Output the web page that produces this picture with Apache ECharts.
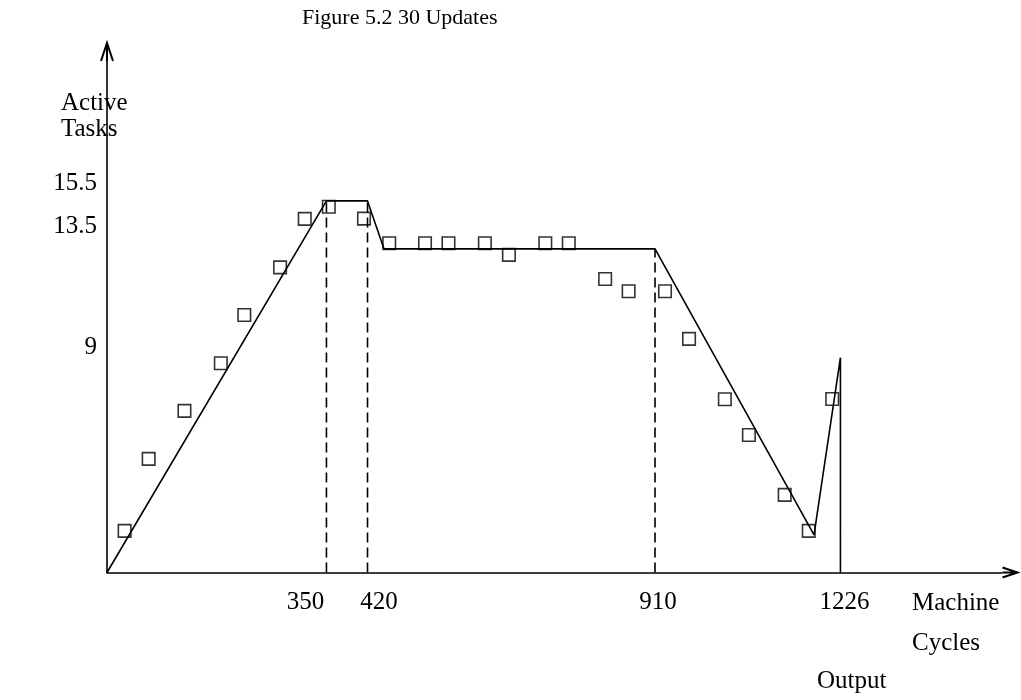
<!DOCTYPE html>
<html>
<head>
<meta charset="utf-8">
<script src="https://cdn.jsdelivr.net/npm/echarts@6/dist/echarts.min.js"></script>
<style>
  html, body { margin: 0; padding: 0; background: #fff; }
  #chart { width: 1021px; height: 700px; }
</style>
</head>
<body>
<div id="chart"></div>
<script>
// ---- data ----
const titleText = 'Figure 5.2 30 Updates';
const yAxisLabel = ['Active', 'Tasks'];
const xAxisLabel = ['Machine', 'Cycles'];
const outputLabel = 'Output';

const xTicks = [350, 420, 910, 1226];
const yTicks = [9, 13.5, 15.5];

// model curve (solid polyline)
const modelX = [-24, 350, 420, 448, 910, 1181, 1226, 1226];
const modelY = [0, 14.65, 14.65, 12.76, 12.76, 1.48, 8.47, 0];

// dashed guide lines
const guideX = [350, 420, 910];
const guideTop = [14.65, 14.65, 12.76];

// measured points (squares)
const pointX = [6, 47, 108, 170, 210, 271, 313, 354, 414, 457, 518, 558, 620, 661, 723, 763, 825, 865, 927, 968, 1029, 1070, 1131, 1172, 1212];
const pointY = [1.64, 4.48, 6.37, 8.25, 10.15, 12.03, 13.94, 14.42, 13.95, 12.98, 12.98, 12.98, 12.98, 12.52, 12.98, 12.98, 11.57, 11.09, 11.09, 9.21, 6.83, 5.42, 3.06, 1.64, 6.84];

// ---- build ----
const FONT = 'Liberation Serif';
const openArrow = 'emptypath://M0 18 L6 0 L12 18 M6 0 L6 18';

const modelData = modelX.map((x, i) => [x, modelY[i]]);
const pointData = pointX.map((x, i) => [x, pointY[i]]);

const guideSeries = guideX.map((x, i) => ({
  type: 'line',
  data: [[x, 0], [x, guideTop[i]]],
  symbol: 'none',
  silent: true,
  lineStyle: { color: '#000', width: 1.6, type: [10, 5] },
  z: 1
}));

// label shifts (reference labels are not exactly centred on their ticks)
const xLabelRich = {
  a: { padding: [0, 42, 0, 0] },
  b: { padding: [0, 0, 0, 23] },
  c: { padding: [0, 0, 0, 6] },
  d: { padding: [0, 0, 0, 8] }
};
const xLabelKey = { 350: 'a', 420: 'b', 910: 'c', 1226: 'd' };
const yLabelRich = {
  p: { padding: [6, 0, 0, 0] },
  q: { padding: [0, 0, 8, 0] },
  r: { padding: [8, 0, 0, 0] }
};
const yLabelKey = { 9: 'p', 13.5: 'q', 15.5: 'r' };

const chart = echarts.init(document.getElementById('chart'), null, { renderer: 'canvas' });
chart.setOption({
  backgroundColor: '#fff',
  animation: false,
  title: {
    text: titleText,
    left: 302,
    top: 7,
    padding: 0,
    textStyle: { fontFamily: FONT, fontSize: 22, fontWeight: 'normal', color: '#000' }
  },
  grid: {
    left: 107, right: 11, top: 52, bottom: 127.5,
    containLabel: false,
    outerBoundsMode: 'none'
  },
  xAxis: {
    type: 'value',
    min: -24,
    max: 1515,
    splitLine: { show: false },
    axisTick: { show: false },
    axisLine: {
      show: true,
      onZero: false,
      symbol: ['none', openArrow],
      symbolSize: [10, 20],
      lineStyle: { color: '#000', width: 1.6 }
    },
    axisLabel: {
      customValues: xTicks,
      margin: 17,
      color: '#000',
      fontFamily: FONT,
      fontSize: 25,
      formatter: v => '{' + xLabelKey[v] + '|' + v + '}',
      rich: xLabelRich
    }
  },
  yAxis: {
    type: 'value',
    min: 0,
    max: 20.52,
    splitLine: { show: false },
    axisTick: { show: false },
    axisLine: {
      show: true,
      onZero: false,
      symbol: ['none', openArrow],
      symbolSize: [12, 18],
      lineStyle: { color: '#000', width: 1.6 }
    },
    axisLabel: {
      customValues: yTicks,
      margin: 10,
      color: '#000',
      fontFamily: FONT,
      fontSize: 25,
      formatter: v => '{' + yLabelKey[v] + '|' + v + '}',
      rich: yLabelRich
    }
  },
  graphic: [
    {
      type: 'text', left: 61, top: 90,
      style: { text: yAxisLabel.join('\n'), font: '25px "Liberation Serif"', fill: '#000', lineHeight: 26 }
    },
    {
      type: 'text', left: 912, top: 583,
      style: { text: xAxisLabel.join('\n'), font: '25px "Liberation Serif"', fill: '#000', lineHeight: 40 }
    },
    {
      type: 'text', left: 817, top: 669,
      style: { text: outputLabel, font: '25px "Liberation Serif"', fill: '#000' }
    }
  ],
  series: [
    ...guideSeries,
    {
      type: 'line',
      data: modelData,
      symbol: 'none',
      silent: true,
      lineStyle: { color: '#000', width: 1.6 },
      z: 2
    },
    {
      type: 'scatter',
      data: pointData,
      symbol: 'rect',
      symbolSize: 12.5,
      silent: true,
      itemStyle: { color: 'rgba(0,0,0,0)', borderColor: '#000', borderWidth: 1.6 },
      z: 3
    }
  ]
});
</script>
</body>
</html>
